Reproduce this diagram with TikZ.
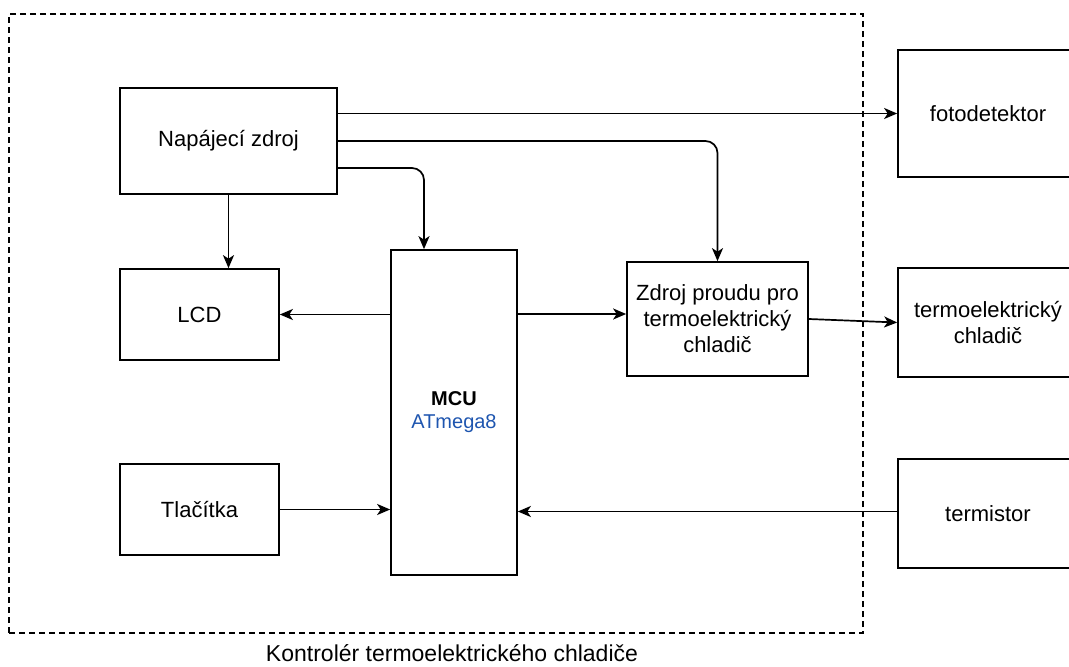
\documentclass[tikz,border=0pt]{standalone}
\usepackage{fontspec}
\setmainfont{Liberation Sans}
\usetikzlibrary{arrows.meta}
\definecolor{mcublue}{RGB}{30,85,175}
\begin{document}
\begin{tikzpicture}[x=1pt,y=-1pt,
 box/.style={draw, line width=1.7pt, align=center, font=\fontsize{22}{26}\selectfont, inner sep=0pt},
 container/.style={draw, dash pattern=on 6pt off 4pt, line width=1.2pt, inner sep=0pt},
 conn/.style={-{Stealth[length=13pt,width=11pt,inset=3.5pt]}, line width=1.7pt, rounded corners=12pt}]
\useasboundingbox (0,0) rectangle (1069,667);
\node[container, minimum width=854pt, minimum height=619pt] (ctrl) at (436,323.5) {};
\node[font=\fontsize{23}{27}\selectfont, anchor=base, inner sep=0pt] (cap) at (452,661) {Kontrolér termoelektrického chladiče};
\node[box, minimum width=217pt, minimum height=106pt] (psu) at (228.5,141) {Napájecí zdroj};
\node[box, minimum width=159pt, minimum height=91pt] (lcd) at (199.5,314.5) {LCD};
\node[box, minimum width=159pt, minimum height=91pt] (btn) at (199.5,509.5) {Tlačítka};
\node[box, minimum width=126pt, minimum height=325pt, font=\fontsize{20}{23}\selectfont] (mcu) at (454,412.5) {\textbf{MCU}\\\textcolor{mcublue}{ATmega8}};
\node[box, minimum width=181pt, minimum height=114pt] (zdroj) at (717.5,319) {Zdroj proudu pro\\termoelektrický\\chladič};
\node[box, minimum width=180pt, minimum height=127pt] (foto) at (988,113.5) {fotodetektor};
\node[box, minimum width=180pt, minimum height=109pt] (tec) at (988,322.5) {termoelektrický\\chladič};
\node[box, minimum width=180pt, minimum height=109pt] (therm) at (988,513.5) {termistor};
\coordinate (zin) at ([yshift=5pt]zdroj.west);
\coordinate (tout) at ([yshift=2pt]therm.west);
\draw[conn] ([yshift=27.5pt]psu.east) -- (foto.west);
\draw[conn] (psu.east) -| (zdroj.north);
\draw[conn] ([yshift=-27pt]psu.east) -| ([xshift=-30pt]mcu.north);
\draw[conn] (psu.south) -- (psu.south |- lcd.north);
\draw[conn] (mcu.west |- lcd.east) -- (lcd.east);
\draw[conn] (mcu.east |- zin) -- (zin);
\draw[conn] (zdroj.east) -- (tec.west);
\draw[conn] (btn.east) -- (mcu.west |- btn.east);
\draw[conn] (tout) -- (mcu.east |- tout);
\end{tikzpicture}
\end{document}
